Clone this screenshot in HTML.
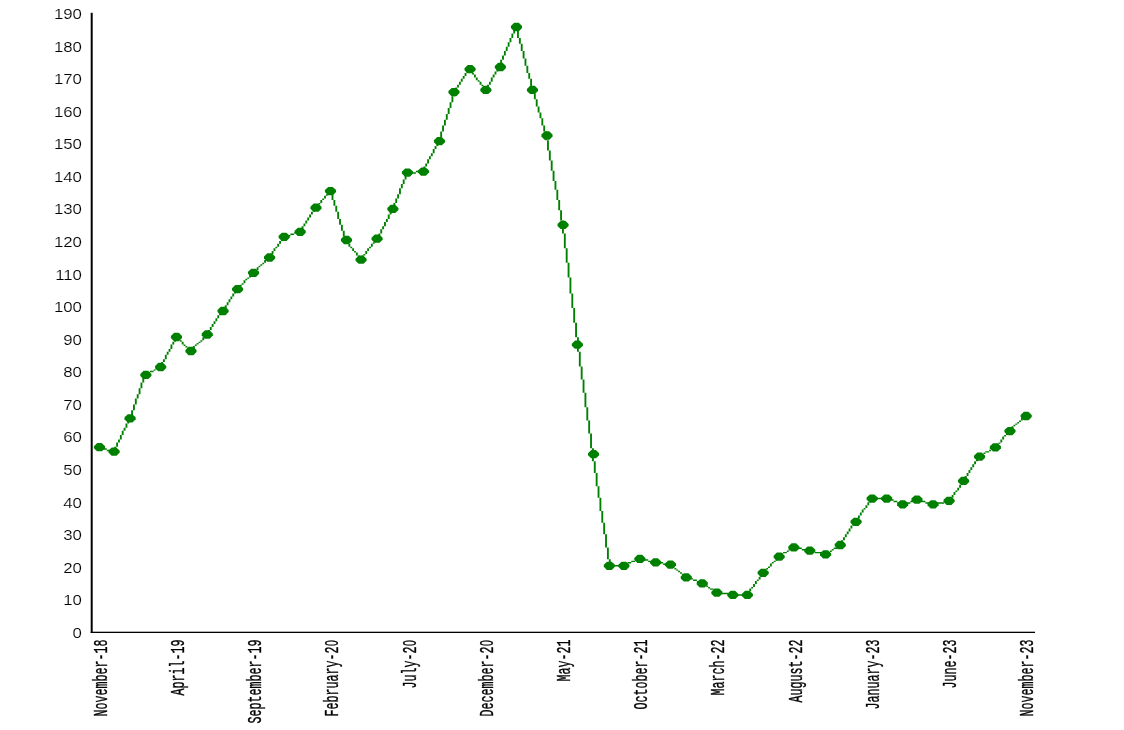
<!DOCTYPE html>
<html><head><meta charset="utf-8"><title>chart</title>
<style>
html,body{margin:0;padding:0;background:#fff;}
svg{display:block}
text{font-family:"Liberation Mono",monospace;fill:#000}
.xl{stroke:#000;stroke-width:0.3;vector-effect:non-scaling-stroke}
.z{font-family:"Liberation Sans",sans-serif;font-size:18.6px}
.yl{font-family:"Liberation Sans",sans-serif;stroke:#fff;stroke-width:0.15}
</style></head><body>
<svg width="1124" height="730" viewBox="0 0 1124 730">
<rect width="1124" height="730" fill="#fff"/>
<g>
<rect x="90.7" y="12.8" width="2" height="620.2" fill="#000"/>
<rect x="90.7" y="631.7" width="944.3" height="1.3" fill="#000"/>
<text class="yl" transform="translate(81.9,637.9) scale(1.19,1)" font-size="14.1" text-anchor="end">0</text>
<text class="yl" transform="translate(81.9,605.3) scale(1.19,1)" font-size="14.1" text-anchor="end">10</text>
<text class="yl" transform="translate(81.9,572.7) scale(1.19,1)" font-size="14.1" text-anchor="end">20</text>
<text class="yl" transform="translate(81.9,540.2) scale(1.19,1)" font-size="14.1" text-anchor="end">30</text>
<text class="yl" transform="translate(81.9,507.6) scale(1.19,1)" font-size="14.1" text-anchor="end">40</text>
<text class="yl" transform="translate(81.9,475.0) scale(1.19,1)" font-size="14.1" text-anchor="end">50</text>
<text class="yl" transform="translate(81.9,442.4) scale(1.19,1)" font-size="14.1" text-anchor="end">60</text>
<text class="yl" transform="translate(81.9,409.8) scale(1.19,1)" font-size="14.1" text-anchor="end">70</text>
<text class="yl" transform="translate(81.9,377.3) scale(1.19,1)" font-size="14.1" text-anchor="end">80</text>
<text class="yl" transform="translate(81.9,344.7) scale(1.19,1)" font-size="14.1" text-anchor="end">90</text>
<text class="yl" transform="translate(81.9,312.1) scale(1.19,1)" font-size="14.1" text-anchor="end">100</text>
<text class="yl" transform="translate(81.9,279.5) scale(1.19,1)" font-size="14.1" text-anchor="end">110</text>
<text class="yl" transform="translate(81.9,247.0) scale(1.19,1)" font-size="14.1" text-anchor="end">120</text>
<text class="yl" transform="translate(81.9,214.4) scale(1.19,1)" font-size="14.1" text-anchor="end">130</text>
<text class="yl" transform="translate(81.9,181.8) scale(1.19,1)" font-size="14.1" text-anchor="end">140</text>
<text class="yl" transform="translate(81.9,149.2) scale(1.19,1)" font-size="14.1" text-anchor="end">150</text>
<text class="yl" transform="translate(81.9,116.6) scale(1.19,1)" font-size="14.1" text-anchor="end">160</text>
<text class="yl" transform="translate(81.9,84.1) scale(1.19,1)" font-size="14.1" text-anchor="end">170</text>
<text class="yl" transform="translate(81.9,51.5) scale(1.19,1)" font-size="14.1" text-anchor="end">180</text>
<text class="yl" transform="translate(81.9,18.9) scale(1.19,1)" font-size="14.1" text-anchor="end">190</text>
<text transform="translate(106.7,639.60) rotate(-90) scale(0.566,1)" class="xl" font-size="20.6" text-anchor="end">November-18</text>
<text transform="translate(183.7,639.60) rotate(-90) scale(0.566,1)" class="xl" font-size="20.6" text-anchor="end">April-19</text>
<text transform="translate(260.8,639.60) rotate(-90) scale(0.566,1)" class="xl" font-size="20.6" text-anchor="end">September-19</text>
<text transform="translate(337.7,640.17) rotate(-90) scale(0.566,1)" class="xl" font-size="20.6" text-anchor="end">February-2<tspan class="z" dx="1.01">0</tspan></text>
<text transform="translate(415.7,640.17) rotate(-90) scale(0.566,1)" class="xl" font-size="20.6" text-anchor="end">July-2<tspan class="z" dx="1.01">0</tspan></text>
<text transform="translate(493.1,640.17) rotate(-90) scale(0.566,1)" class="xl" font-size="20.6" text-anchor="end">December-2<tspan class="z" dx="1.01">0</tspan></text>
<text transform="translate(570.3,639.60) rotate(-90) scale(0.566,1)" class="xl" font-size="20.6" text-anchor="end">May-21</text>
<text transform="translate(647.1,639.60) rotate(-90) scale(0.566,1)" class="xl" font-size="20.6" text-anchor="end">October-21</text>
<text transform="translate(724.1,639.60) rotate(-90) scale(0.566,1)" class="xl" font-size="20.6" text-anchor="end">March-22</text>
<text transform="translate(802.4,639.60) rotate(-90) scale(0.566,1)" class="xl" font-size="20.6" text-anchor="end">August-22</text>
<text transform="translate(879.4,639.60) rotate(-90) scale(0.566,1)" class="xl" font-size="20.6" text-anchor="end">January-23</text>
<text transform="translate(956.3,639.60) rotate(-90) scale(0.566,1)" class="xl" font-size="20.6" text-anchor="end">June-23</text>
<text transform="translate(1033.4,639.60) rotate(-90) scale(0.566,1)" class="xl" font-size="20.6" text-anchor="end">November-23</text>
<g transform="scale(1.87333,1.46000)"><path d="M52 306h2v1h-2zM54 307h3v1h-3zM57 308h2v1h-2zM59 309h2v1h-2zM60 308h1v1h-1zM61 306h1v2h-1zM62 303h1v3h-1zM63 301h1v2h-1zM64 298h1v3h-1zM65 295h1v3h-1zM66 293h1v2h-1zM67 290h1v3h-1zM68 288h1v2h-1zM69 285h1v3h-1zM70 281h1v4h-1zM71 277h1v4h-1zM72 273h1v4h-1zM73 270h1v3h-1zM74 266h1v4h-1zM75 262h1v4h-1zM76 258h1v4h-1zM77 256h1v2h-1zM78 255h2v1h-2zM80 254h2v1h-2zM82 253h1v1h-1zM83 252h2v1h-2zM85 250h1v2h-1zM86 248h1v2h-1zM87 246h1v2h-1zM88 243h1v3h-1zM89 241h1v2h-1zM90 239h1v2h-1zM91 236h1v3h-1zM92 234h1v2h-1zM93 232h1v2h-1zM94 230h1v2h-1zM95 231h1v2h-1zM96 233h1v1h-1zM97 234h1v2h-1zM98 236h1v1h-1zM99 237h1v1h-1zM100 238h1v2h-1zM101 240h1v1h-1zM102 239h1v1h-1zM103 237h1v2h-1zM104 236h1v1h-1zM105 235h1v1h-1zM106 234h1v1h-1zM107 233h1v1h-1zM108 231h1v2h-1zM109 230h1v1h-1zM110 228h1v2h-1zM111 226h1v2h-1zM112 224h1v2h-1zM113 222h1v2h-1zM114 220h1v2h-1zM115 218h1v2h-1zM116 216h1v2h-1zM117 214h1v2h-1zM118 213h1v1h-1zM119 211h1v2h-1zM120 209h1v2h-1zM121 207h1v2h-1zM122 205h1v2h-1zM123 203h1v2h-1zM124 201h1v2h-1zM125 199h1v2h-1zM126 198h1v1h-1zM127 196h1v2h-1zM128 195h1v1h-1zM129 194h1v1h-1zM130 192h1v2h-1zM131 191h1v1h-1zM132 190h1v1h-1zM133 188h1v2h-1zM134 187h1v1h-1zM135 186h1v1h-1zM136 185h1v1h-1zM137 183h1v2h-1zM138 182h1v1h-1zM139 181h1v1h-1zM140 180h1v1h-1zM141 178h1v2h-1zM142 177h1v1h-1zM143 176h1v1h-1zM144 174h1v2h-1zM145 172h1v2h-1zM146 170h1v2h-1zM147 169h1v1h-1zM148 167h1v2h-1zM149 165h1v2h-1zM150 163h1v2h-1zM151 162h2v1h-2zM153 161h2v1h-2zM155 160h2v1h-2zM157 159h2v1h-2zM159 158h2v1h-2zM160 157h1v1h-1zM161 155h1v2h-1zM162 153h1v2h-1zM163 151h1v2h-1zM164 149h1v2h-1zM165 147h1v2h-1zM166 145h1v2h-1zM167 143h1v2h-1zM168 142h1v1h-1zM169 140h1v2h-1zM170 139h1v1h-1zM171 137h1v2h-1zM172 136h1v1h-1zM173 134h1v2h-1zM174 133h1v1h-1zM175 131h1v2h-1zM176 130h1v3h-1zM177 133h1v4h-1zM178 137h1v4h-1zM179 141h1v4h-1zM180 145h1v5h-1zM181 150h1v4h-1zM182 154h1v4h-1zM183 158h1v4h-1zM184 162h1v3h-1zM185 165h1v2h-1zM186 167h1v2h-1zM187 169h1v1h-1zM188 170h1v2h-1zM189 172h1v1h-1zM190 173h1v2h-1zM191 175h1v2h-1zM192 177h1v1h-1zM193 175h1v2h-1zM194 174h1v1h-1zM195 172h1v2h-1zM196 170h1v2h-1zM197 169h1v1h-1zM198 167h1v2h-1zM199 166h1v1h-1zM200 164h1v2h-1zM201 162h1v2h-1zM202 160h1v2h-1zM203 157h1v3h-1zM204 155h1v2h-1zM205 152h1v3h-1zM206 150h1v2h-1zM207 147h1v3h-1zM208 145h1v2h-1zM209 142h1v3h-1zM210 139h1v3h-1zM211 136h1v3h-1zM212 133h1v3h-1zM213 129h1v4h-1zM214 126h1v3h-1zM215 123h1v3h-1zM216 120h1v3h-1zM217 118h5v1h-5zM217 119h1v1h-1zM222 117h4v1h-4zM225 116h1v1h-1zM226 114h1v2h-1zM227 112h1v2h-1zM228 109h1v3h-1zM229 107h1v2h-1zM230 105h1v2h-1zM231 102h1v3h-1zM232 100h1v2h-1zM233 98h1v2h-1zM234 94h1v4h-1zM235 90h1v4h-1zM236 86h1v4h-1zM237 82h1v4h-1zM238 78h1v4h-1zM239 74h1v4h-1zM240 70h1v4h-1zM241 66h1v4h-1zM242 62h1v4h-1zM243 60h1v2h-1zM244 58h1v2h-1zM245 56h1v2h-1zM246 54h1v2h-1zM247 52h1v2h-1zM248 50h1v2h-1zM249 48h1v2h-1zM250 47h1v1h-1zM251 48h1v2h-1zM252 50h1v1h-1zM253 51h1v2h-1zM254 53h1v2h-1zM255 55h1v1h-1zM256 56h1v2h-1zM257 58h1v1h-1zM258 59h1v2h-1zM259 60h1v2h-1zM260 58h1v2h-1zM261 56h1v2h-1zM262 53h1v3h-1zM263 51h1v2h-1zM264 49h1v2h-1zM265 47h1v2h-1zM266 44h1v3h-1zM267 41h1v3h-1zM268 38h1v3h-1zM269 35h1v3h-1zM270 32h1v3h-1zM271 29h1v3h-1zM272 26h1v3h-1zM273 23h1v3h-1zM274 20h1v3h-1zM275 18h1v3h-1zM276 21h1v5h-1zM277 26h1v4h-1zM278 30h1v5h-1zM279 35h1v5h-1zM280 40h1v5h-1zM281 45h1v5h-1zM282 50h1v4h-1zM283 54h1v5h-1zM284 59h1v5h-1zM285 64h1v4h-1zM286 68h1v5h-1zM287 73h1v4h-1zM288 77h1v4h-1zM289 81h1v5h-1zM290 86h1v4h-1zM291 90h1v6h-1zM292 96h1v7h-1zM293 103h1v7h-1zM294 110h1v7h-1zM295 117h1v7h-1zM296 124h1v6h-1zM297 130h1v7h-1zM298 137h1v7h-1zM299 144h1v7h-1zM300 151h1v9h-1zM301 160h1v10h-1zM302 170h1v10h-1zM303 180h1v10h-1zM304 190h1v11h-1zM305 201h1v10h-1zM306 211h1v10h-1zM307 221h1v10h-1zM308 231h1v10h-1zM309 241h1v10h-1zM310 251h1v9h-1zM311 260h1v9h-1zM312 269h1v10h-1zM313 279h1v9h-1zM314 288h1v9h-1zM315 297h1v10h-1zM316 307h1v9h-1zM317 316h1v8h-1zM318 324h1v9h-1zM319 333h1v8h-1zM320 341h1v9h-1zM321 350h1v8h-1zM322 358h1v8h-1zM323 366h1v9h-1zM324 375h1v8h-1zM325 383h1v5h-1zM326 387h7v1h-7zM333 386h2v1h-2zM335 385h2v1h-2zM337 384h2v1h-2zM339 383h2v1h-2zM341 382h2v1h-2zM343 383h3v1h-3zM346 384h2v1h-2zM348 385h6v1h-6zM354 386h4v1h-4zM358 387h1v1h-1zM359 388h1v1h-1zM360 389h1v1h-1zM361 390h1v1h-1zM362 391h1v1h-1zM363 392h1v1h-1zM364 393h1v1h-1zM365 394h1v1h-1zM366 395h2v1h-2zM368 396h2v1h-2zM370 397h2v1h-2zM372 398h2v1h-2zM374 399h1v1h-1zM375 400h2v1h-2zM377 401h1v1h-1zM378 402h1v1h-1zM379 403h2v1h-2zM381 404h1v1h-1zM382 405h3v1h-3zM385 406h4v1h-4zM389 407h10v1h-10zM399 405h1v2h-1zM400 403h1v2h-1zM401 402h1v1h-1zM402 400h1v2h-1zM403 398h1v2h-1zM404 397h1v1h-1zM405 395h1v2h-1zM406 393h1v2h-1zM407 392h1v1h-1zM408 390h1v2h-1zM409 389h1v1h-1zM410 388h1v1h-1zM411 386h1v2h-1zM412 385h1v1h-1zM413 384h1v1h-1zM414 382h1v2h-1zM415 381h1v1h-1zM416 380h1v1h-1zM417 379h1v1h-1zM418 378h2v1h-2zM420 377h1v1h-1zM421 376h1v1h-1zM422 375h1v1h-1zM423 374h2v1h-2zM425 375h3v1h-3zM428 376h3v1h-3zM431 377h4v1h-4zM435 378h4v1h-4zM439 379h2v1h-2zM441 378h2v1h-2zM443 377h1v1h-1zM444 376h1v1h-1zM445 375h2v1h-2zM447 374h1v1h-1zM448 372h1v2h-1zM449 370h1v2h-1zM450 368h1v2h-1zM451 366h1v2h-1zM452 364h1v2h-1zM453 362h1v2h-1zM454 360h1v2h-1zM455 358h1v2h-1zM456 357h1v1h-1zM457 355h1v2h-1zM458 353h1v2h-1zM459 351h1v2h-1zM460 349h1v2h-1zM461 348h1v1h-1zM462 346h1v2h-1zM463 344h1v2h-1zM464 342h1v2h-1zM465 341h10v1h-10zM475 342h2v1h-2zM477 343h2v1h-2zM479 344h2v1h-2zM481 345h2v1h-2zM483 344h3v1h-3zM486 343h2v1h-2zM488 342h3v1h-3zM491 343h3v1h-3zM494 344h2v1h-2zM496 345h4v1h-4zM500 344h4v1h-4zM504 343h3v1h-3zM507 341h1v2h-1zM508 339h1v2h-1zM509 337h1v2h-1zM510 336h1v1h-1zM511 334h1v2h-1zM512 332h1v2h-1zM513 330h1v2h-1zM514 328h1v2h-1zM515 326h1v2h-1zM516 324h1v2h-1zM517 322h1v2h-1zM518 320h1v2h-1zM519 318h1v2h-1zM520 316h1v2h-1zM521 314h1v2h-1zM522 312h1v2h-1zM523 311h2v1h-2zM525 310h1v1h-1zM526 309h2v1h-2zM528 308h1v1h-1zM529 307h2v1h-2zM531 306h1v1h-1zM532 304h1v2h-1zM533 303h1v1h-1zM534 301h1v2h-1zM535 299h1v2h-1zM536 298h1v1h-1zM537 296h1v2h-1zM538 295h1v1h-1zM539 294h1v1h-1zM540 292h1v2h-1zM541 291h1v1h-1zM542 290h1v1h-1zM543 289h1v1h-1zM544 288h1v1h-1zM545 286h1v2h-1zM546 285h1v1h-1zM547 284h1v1h-1z" fill="#008000"/></g>
<path transform="translate(99.2,447.2)" d="M-2,-4.15 L2.5,-4.15 L5.85,-1 L5.85,1 L2.7,4.15 L-2.2,4.15 L-5.3,1 L-5.3,-1 Z" fill="#008000"/>
<path transform="translate(113.8,451.6)" d="M-2,-4.15 L2.5,-4.15 L5.85,-1 L5.85,1 L2.7,4.15 L-2.2,4.15 L-5.3,1 L-5.3,-1 Z" fill="#008000"/>
<path transform="translate(129.8,418.3)" d="M-2,-4.15 L2.5,-4.15 L5.85,-1 L5.85,1 L2.7,4.15 L-2.2,4.15 L-5.3,1 L-5.3,-1 Z" fill="#008000"/>
<path transform="translate(145.6,374.9)" d="M-2,-4.15 L2.5,-4.15 L5.85,-1 L5.85,1 L2.7,4.15 L-2.2,4.15 L-5.3,1 L-5.3,-1 Z" fill="#008000"/>
<path transform="translate(160.4,367.0)" d="M-2,-4.15 L2.5,-4.15 L5.85,-1 L5.85,1 L2.7,4.15 L-2.2,4.15 L-5.3,1 L-5.3,-1 Z" fill="#008000"/>
<path transform="translate(176.2,337.0)" d="M-2,-4.15 L2.5,-4.15 L5.85,-1 L5.85,1 L2.7,4.15 L-2.2,4.15 L-5.3,1 L-5.3,-1 Z" fill="#008000"/>
<path transform="translate(190.7,351.0)" d="M-2,-4.15 L2.5,-4.15 L5.85,-1 L5.85,1 L2.7,4.15 L-2.2,4.15 L-5.3,1 L-5.3,-1 Z" fill="#008000"/>
<path transform="translate(207.0,334.5)" d="M-2,-4.15 L2.5,-4.15 L5.85,-1 L5.85,1 L2.7,4.15 L-2.2,4.15 L-5.3,1 L-5.3,-1 Z" fill="#008000"/>
<path transform="translate(222.8,311.0)" d="M-2,-4.15 L2.5,-4.15 L5.85,-1 L5.85,1 L2.7,4.15 L-2.2,4.15 L-5.3,1 L-5.3,-1 Z" fill="#008000"/>
<path transform="translate(237.3,289.2)" d="M-2,-4.15 L2.5,-4.15 L5.85,-1 L5.85,1 L2.7,4.15 L-2.2,4.15 L-5.3,1 L-5.3,-1 Z" fill="#008000"/>
<path transform="translate(253.3,272.8)" d="M-2,-4.15 L2.5,-4.15 L5.85,-1 L5.85,1 L2.7,4.15 L-2.2,4.15 L-5.3,1 L-5.3,-1 Z" fill="#008000"/>
<path transform="translate(269.3,257.5)" d="M-2,-4.15 L2.5,-4.15 L5.85,-1 L5.85,1 L2.7,4.15 L-2.2,4.15 L-5.3,1 L-5.3,-1 Z" fill="#008000"/>
<path transform="translate(283.9,236.8)" d="M-2,-4.15 L2.5,-4.15 L5.85,-1 L5.85,1 L2.7,4.15 L-2.2,4.15 L-5.3,1 L-5.3,-1 Z" fill="#008000"/>
<path transform="translate(299.9,231.8)" d="M-2,-4.15 L2.5,-4.15 L5.85,-1 L5.85,1 L2.7,4.15 L-2.2,4.15 L-5.3,1 L-5.3,-1 Z" fill="#008000"/>
<path transform="translate(315.7,207.7)" d="M-2,-4.15 L2.5,-4.15 L5.85,-1 L5.85,1 L2.7,4.15 L-2.2,4.15 L-5.3,1 L-5.3,-1 Z" fill="#008000"/>
<path transform="translate(330.2,191.1)" d="M-2,-4.15 L2.5,-4.15 L5.85,-1 L5.85,1 L2.7,4.15 L-2.2,4.15 L-5.3,1 L-5.3,-1 Z" fill="#008000"/>
<path transform="translate(346.2,240.0)" d="M-2,-4.15 L2.5,-4.15 L5.85,-1 L5.85,1 L2.7,4.15 L-2.2,4.15 L-5.3,1 L-5.3,-1 Z" fill="#008000"/>
<path transform="translate(360.8,259.7)" d="M-2,-4.15 L2.5,-4.15 L5.85,-1 L5.85,1 L2.7,4.15 L-2.2,4.15 L-5.3,1 L-5.3,-1 Z" fill="#008000"/>
<path transform="translate(376.8,238.7)" d="M-2,-4.15 L2.5,-4.15 L5.85,-1 L5.85,1 L2.7,4.15 L-2.2,4.15 L-5.3,1 L-5.3,-1 Z" fill="#008000"/>
<path transform="translate(392.6,208.9)" d="M-2,-4.15 L2.5,-4.15 L5.85,-1 L5.85,1 L2.7,4.15 L-2.2,4.15 L-5.3,1 L-5.3,-1 Z" fill="#008000"/>
<path transform="translate(407.2,172.6)" d="M-2,-4.15 L2.5,-4.15 L5.85,-1 L5.85,1 L2.7,4.15 L-2.2,4.15 L-5.3,1 L-5.3,-1 Z" fill="#008000"/>
<path transform="translate(423.2,171.6)" d="M-2,-4.15 L2.5,-4.15 L5.85,-1 L5.85,1 L2.7,4.15 L-2.2,4.15 L-5.3,1 L-5.3,-1 Z" fill="#008000"/>
<path transform="translate(439.2,141.2)" d="M-2,-4.15 L2.5,-4.15 L5.85,-1 L5.85,1 L2.7,4.15 L-2.2,4.15 L-5.3,1 L-5.3,-1 Z" fill="#008000"/>
<path transform="translate(453.7,92.1)" d="M-2,-4.15 L2.5,-4.15 L5.85,-1 L5.85,1 L2.7,4.15 L-2.2,4.15 L-5.3,1 L-5.3,-1 Z" fill="#008000"/>
<path transform="translate(469.8,69.2)" d="M-2,-4.15 L2.5,-4.15 L5.85,-1 L5.85,1 L2.7,4.15 L-2.2,4.15 L-5.3,1 L-5.3,-1 Z" fill="#008000"/>
<path transform="translate(485.6,89.9)" d="M-2,-4.15 L2.5,-4.15 L5.85,-1 L5.85,1 L2.7,4.15 L-2.2,4.15 L-5.3,1 L-5.3,-1 Z" fill="#008000"/>
<path transform="translate(500.1,67.0)" d="M-2,-4.15 L2.5,-4.15 L5.85,-1 L5.85,1 L2.7,4.15 L-2.2,4.15 L-5.3,1 L-5.3,-1 Z" fill="#008000"/>
<path transform="translate(516.2,27.0)" d="M-2,-4.15 L2.5,-4.15 L5.85,-1 L5.85,1 L2.7,4.15 L-2.2,4.15 L-5.3,1 L-5.3,-1 Z" fill="#008000"/>
<path transform="translate(532.2,89.9)" d="M-2,-4.15 L2.5,-4.15 L5.85,-1 L5.85,1 L2.7,4.15 L-2.2,4.15 L-5.3,1 L-5.3,-1 Z" fill="#008000"/>
<path transform="translate(546.7,135.5)" d="M-2,-4.15 L2.5,-4.15 L5.85,-1 L5.85,1 L2.7,4.15 L-2.2,4.15 L-5.3,1 L-5.3,-1 Z" fill="#008000"/>
<path transform="translate(562.8,224.9)" d="M-2,-4.15 L2.5,-4.15 L5.85,-1 L5.85,1 L2.7,4.15 L-2.2,4.15 L-5.3,1 L-5.3,-1 Z" fill="#008000"/>
<path transform="translate(577.1,344.7)" d="M-2,-4.15 L2.5,-4.15 L5.85,-1 L5.85,1 L2.7,4.15 L-2.2,4.15 L-5.3,1 L-5.3,-1 Z" fill="#008000"/>
<path transform="translate(593.3,454.2)" d="M-2,-4.15 L2.5,-4.15 L5.85,-1 L5.85,1 L2.7,4.15 L-2.2,4.15 L-5.3,1 L-5.3,-1 Z" fill="#008000"/>
<path transform="translate(609.1,565.8)" d="M-2,-4.15 L2.5,-4.15 L5.85,-1 L5.85,1 L2.7,4.15 L-2.2,4.15 L-5.3,1 L-5.3,-1 Z" fill="#008000"/>
<path transform="translate(623.6,565.8)" d="M-2,-4.15 L2.5,-4.15 L5.85,-1 L5.85,1 L2.7,4.15 L-2.2,4.15 L-5.3,1 L-5.3,-1 Z" fill="#008000"/>
<path transform="translate(639.6,558.9)" d="M-2,-4.15 L2.5,-4.15 L5.85,-1 L5.85,1 L2.7,4.15 L-2.2,4.15 L-5.3,1 L-5.3,-1 Z" fill="#008000"/>
<path transform="translate(655.4,562.4)" d="M-2,-4.15 L2.5,-4.15 L5.85,-1 L5.85,1 L2.7,4.15 L-2.2,4.15 L-5.3,1 L-5.3,-1 Z" fill="#008000"/>
<path transform="translate(670.2,564.6)" d="M-2,-4.15 L2.5,-4.15 L5.85,-1 L5.85,1 L2.7,4.15 L-2.2,4.15 L-5.3,1 L-5.3,-1 Z" fill="#008000"/>
<path transform="translate(686.0,577.4)" d="M-2,-4.15 L2.5,-4.15 L5.85,-1 L5.85,1 L2.7,4.15 L-2.2,4.15 L-5.3,1 L-5.3,-1 Z" fill="#008000"/>
<path transform="translate(702.0,583.4)" d="M-2,-4.15 L2.5,-4.15 L5.85,-1 L5.85,1 L2.7,4.15 L-2.2,4.15 L-5.3,1 L-5.3,-1 Z" fill="#008000"/>
<path transform="translate(716.6,592.7)" d="M-2,-4.15 L2.5,-4.15 L5.85,-1 L5.85,1 L2.7,4.15 L-2.2,4.15 L-5.3,1 L-5.3,-1 Z" fill="#008000"/>
<path transform="translate(732.6,594.9)" d="M-2,-4.15 L2.5,-4.15 L5.85,-1 L5.85,1 L2.7,4.15 L-2.2,4.15 L-5.3,1 L-5.3,-1 Z" fill="#008000"/>
<path transform="translate(747.1,594.9)" d="M-2,-4.15 L2.5,-4.15 L5.85,-1 L5.85,1 L2.7,4.15 L-2.2,4.15 L-5.3,1 L-5.3,-1 Z" fill="#008000"/>
<path transform="translate(762.9,572.8)" d="M-2,-4.15 L2.5,-4.15 L5.85,-1 L5.85,1 L2.7,4.15 L-2.2,4.15 L-5.3,1 L-5.3,-1 Z" fill="#008000"/>
<path transform="translate(778.9,556.7)" d="M-2,-4.15 L2.5,-4.15 L5.85,-1 L5.85,1 L2.7,4.15 L-2.2,4.15 L-5.3,1 L-5.3,-1 Z" fill="#008000"/>
<path transform="translate(793.6,547.4)" d="M-2,-4.15 L2.5,-4.15 L5.85,-1 L5.85,1 L2.7,4.15 L-2.2,4.15 L-5.3,1 L-5.3,-1 Z" fill="#008000"/>
<path transform="translate(809.5,550.7)" d="M-2,-4.15 L2.5,-4.15 L5.85,-1 L5.85,1 L2.7,4.15 L-2.2,4.15 L-5.3,1 L-5.3,-1 Z" fill="#008000"/>
<path transform="translate(825.3,554.3)" d="M-2,-4.15 L2.5,-4.15 L5.85,-1 L5.85,1 L2.7,4.15 L-2.2,4.15 L-5.3,1 L-5.3,-1 Z" fill="#008000"/>
<path transform="translate(840.0,545.0)" d="M-2,-4.15 L2.5,-4.15 L5.85,-1 L5.85,1 L2.7,4.15 L-2.2,4.15 L-5.3,1 L-5.3,-1 Z" fill="#008000"/>
<path transform="translate(855.8,521.8)" d="M-2,-4.15 L2.5,-4.15 L5.85,-1 L5.85,1 L2.7,4.15 L-2.2,4.15 L-5.3,1 L-5.3,-1 Z" fill="#008000"/>
<path transform="translate(871.9,498.6)" d="M-2,-4.15 L2.5,-4.15 L5.85,-1 L5.85,1 L2.7,4.15 L-2.2,4.15 L-5.3,1 L-5.3,-1 Z" fill="#008000"/>
<path transform="translate(886.4,498.6)" d="M-2,-4.15 L2.5,-4.15 L5.85,-1 L5.85,1 L2.7,4.15 L-2.2,4.15 L-5.3,1 L-5.3,-1 Z" fill="#008000"/>
<path transform="translate(902.4,504.3)" d="M-2,-4.15 L2.5,-4.15 L5.85,-1 L5.85,1 L2.7,4.15 L-2.2,4.15 L-5.3,1 L-5.3,-1 Z" fill="#008000"/>
<path transform="translate(916.7,499.6)" d="M-2,-4.15 L2.5,-4.15 L5.85,-1 L5.85,1 L2.7,4.15 L-2.2,4.15 L-5.3,1 L-5.3,-1 Z" fill="#008000"/>
<path transform="translate(932.8,504.3)" d="M-2,-4.15 L2.5,-4.15 L5.85,-1 L5.85,1 L2.7,4.15 L-2.2,4.15 L-5.3,1 L-5.3,-1 Z" fill="#008000"/>
<path transform="translate(948.8,500.8)" d="M-2,-4.15 L2.5,-4.15 L5.85,-1 L5.85,1 L2.7,4.15 L-2.2,4.15 L-5.3,1 L-5.3,-1 Z" fill="#008000"/>
<path transform="translate(963.3,480.9)" d="M-2,-4.15 L2.5,-4.15 L5.85,-1 L5.85,1 L2.7,4.15 L-2.2,4.15 L-5.3,1 L-5.3,-1 Z" fill="#008000"/>
<path transform="translate(979.3,456.7)" d="M-2,-4.15 L2.5,-4.15 L5.85,-1 L5.85,1 L2.7,4.15 L-2.2,4.15 L-5.3,1 L-5.3,-1 Z" fill="#008000"/>
<path transform="translate(995.1,447.3)" d="M-2,-4.15 L2.5,-4.15 L5.85,-1 L5.85,1 L2.7,4.15 L-2.2,4.15 L-5.3,1 L-5.3,-1 Z" fill="#008000"/>
<path transform="translate(1009.7,431.1)" d="M-2,-4.15 L2.5,-4.15 L5.85,-1 L5.85,1 L2.7,4.15 L-2.2,4.15 L-5.3,1 L-5.3,-1 Z" fill="#008000"/>
<path transform="translate(1025.9,416.0)" d="M-2,-4.15 L2.5,-4.15 L5.85,-1 L5.85,1 L2.7,4.15 L-2.2,4.15 L-5.3,1 L-5.3,-1 Z" fill="#008000"/>
</g>
</svg></body></html>
